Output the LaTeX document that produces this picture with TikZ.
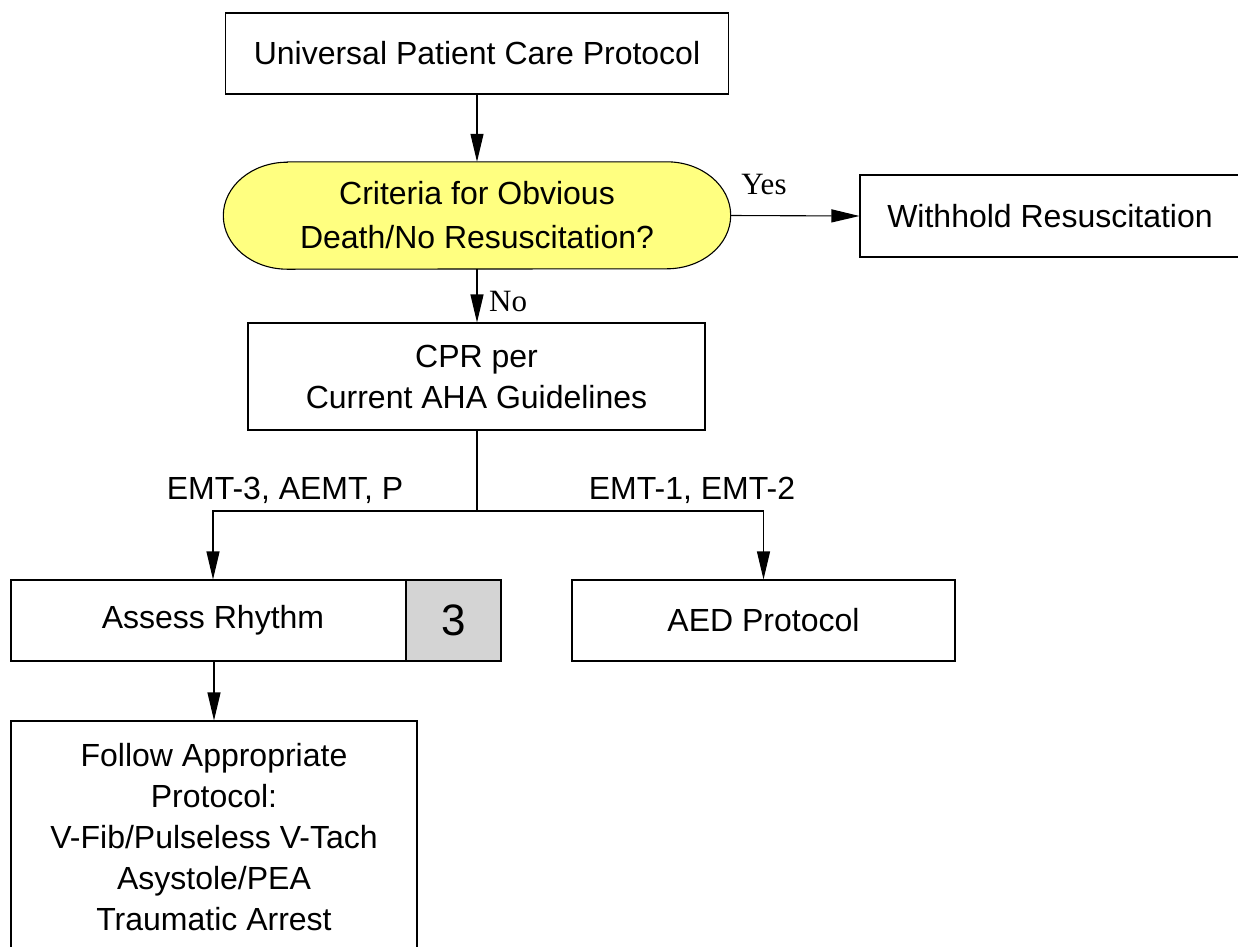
\documentclass[tikz,border=0pt]{standalone}
\usepackage{fontspec}
\setmainfont{Liberation Sans}
\newfontfamily\tmsfont{Liberation Serif}
\usetikzlibrary{arrows.meta,backgrounds}
\definecolor{critfill}{RGB}{255,255,128}
\definecolor{cellgray}{RGB}{212,212,212}
\tikzset{
  box/.style={draw, line width=1.1pt, inner sep=0pt, align=center,
    font=\fontsize{32}{41}\selectfont},
  lbl/.style={inner sep=0pt, font=\fontsize{32}{41}\selectfont},
  yn/.style={inner sep=0pt, font=\tmsfont\fontsize{31}{36}\selectfont},
  conn/.style={line width=1.1pt},
  arr/.style={conn, -{Triangle[length=28pt, width=13pt]}}
}
\begin{document}
\begin{tikzpicture}[x=1pt, y=-1pt]
\useasboundingbox (0,0) rectangle (1238,946);
% nodes
\node[box, minimum width=503pt, minimum height=81pt] (upc) at (477,53.5) {Universal Patient Care Protocol};
\node[inner sep=0pt, minimum width=507pt, minimum height=107pt, align=center,
      font=\fontsize{32}{44}\selectfont] (crit) at (477,215.5) {Criteria for Obvious\\Death/No Resuscitation?};
\begin{scope}[on background layer]
\draw[line width=1.1pt, fill=critfill]
  ([xshift=64pt]crit.north west) -- ([xshift=-64pt]crit.north east)
  arc[start angle=90, end angle=-90, x radius=64pt, y radius=53.5pt]
  -- ([xshift=64pt]crit.south west)
  arc[start angle=270, end angle=90, x radius=64pt, y radius=53.5pt] -- cycle;
\end{scope}
\node[box, minimum width=380pt, minimum height=82pt] (wr) at (1050,216) {Withhold Resuscitation};
\node[box, minimum width=457pt, minimum height=107pt] (cpr) at (476.5,376.5) {CPR per\\Current AHA Guidelines};
\node[box, minimum width=395pt, minimum height=81pt] (ar) at (208.5,620.5) {\hspace*{9pt}Assess Rhythm};
\node[box, fill=cellgray, minimum width=95pt, minimum height=81pt, font=\fontsize{44}{44}\selectfont] (num) at (453.5,620.5) {3};
\node[box, minimum width=383pt, minimum height=81pt] (aed) at (763.5,620.5) {AED Protocol};
\node[box, minimum width=406pt, minimum height=232pt] (fap) at (214,837)
  {Follow Appropriate\\Protocol:\\V-Fib/Pulseless V-Tach\\Asystole/PEA\\Traumatic Arrest};
% labels
\node[yn] (yes) at (764,184) {Yes};
\node[yn, anchor=west] (no) at (489,301) {No};
\node[lbl] (l3) at (285,490) {EMT-3, AEMT, P};
\node[lbl] (l1) at (692,490) {EMT-1, EMT-2};
% connectors
\coordinate (j) at (477,511);
\draw[arr] (upc.south) -- (crit.north);
\draw[arr] (crit.east) -- (wr.west);
\draw[arr] (crit.south) -- (cpr.north -| crit.south);
\draw[conn] (cpr.south -| j) -- (j);
\draw[arr] (j) -| ([xshift=4.5pt]ar.north);
\draw[arr] (j) -| (aed.north);
\draw[arr] (fap.north |- ar.south) -- (fap.north);
\end{tikzpicture}
\end{document}
